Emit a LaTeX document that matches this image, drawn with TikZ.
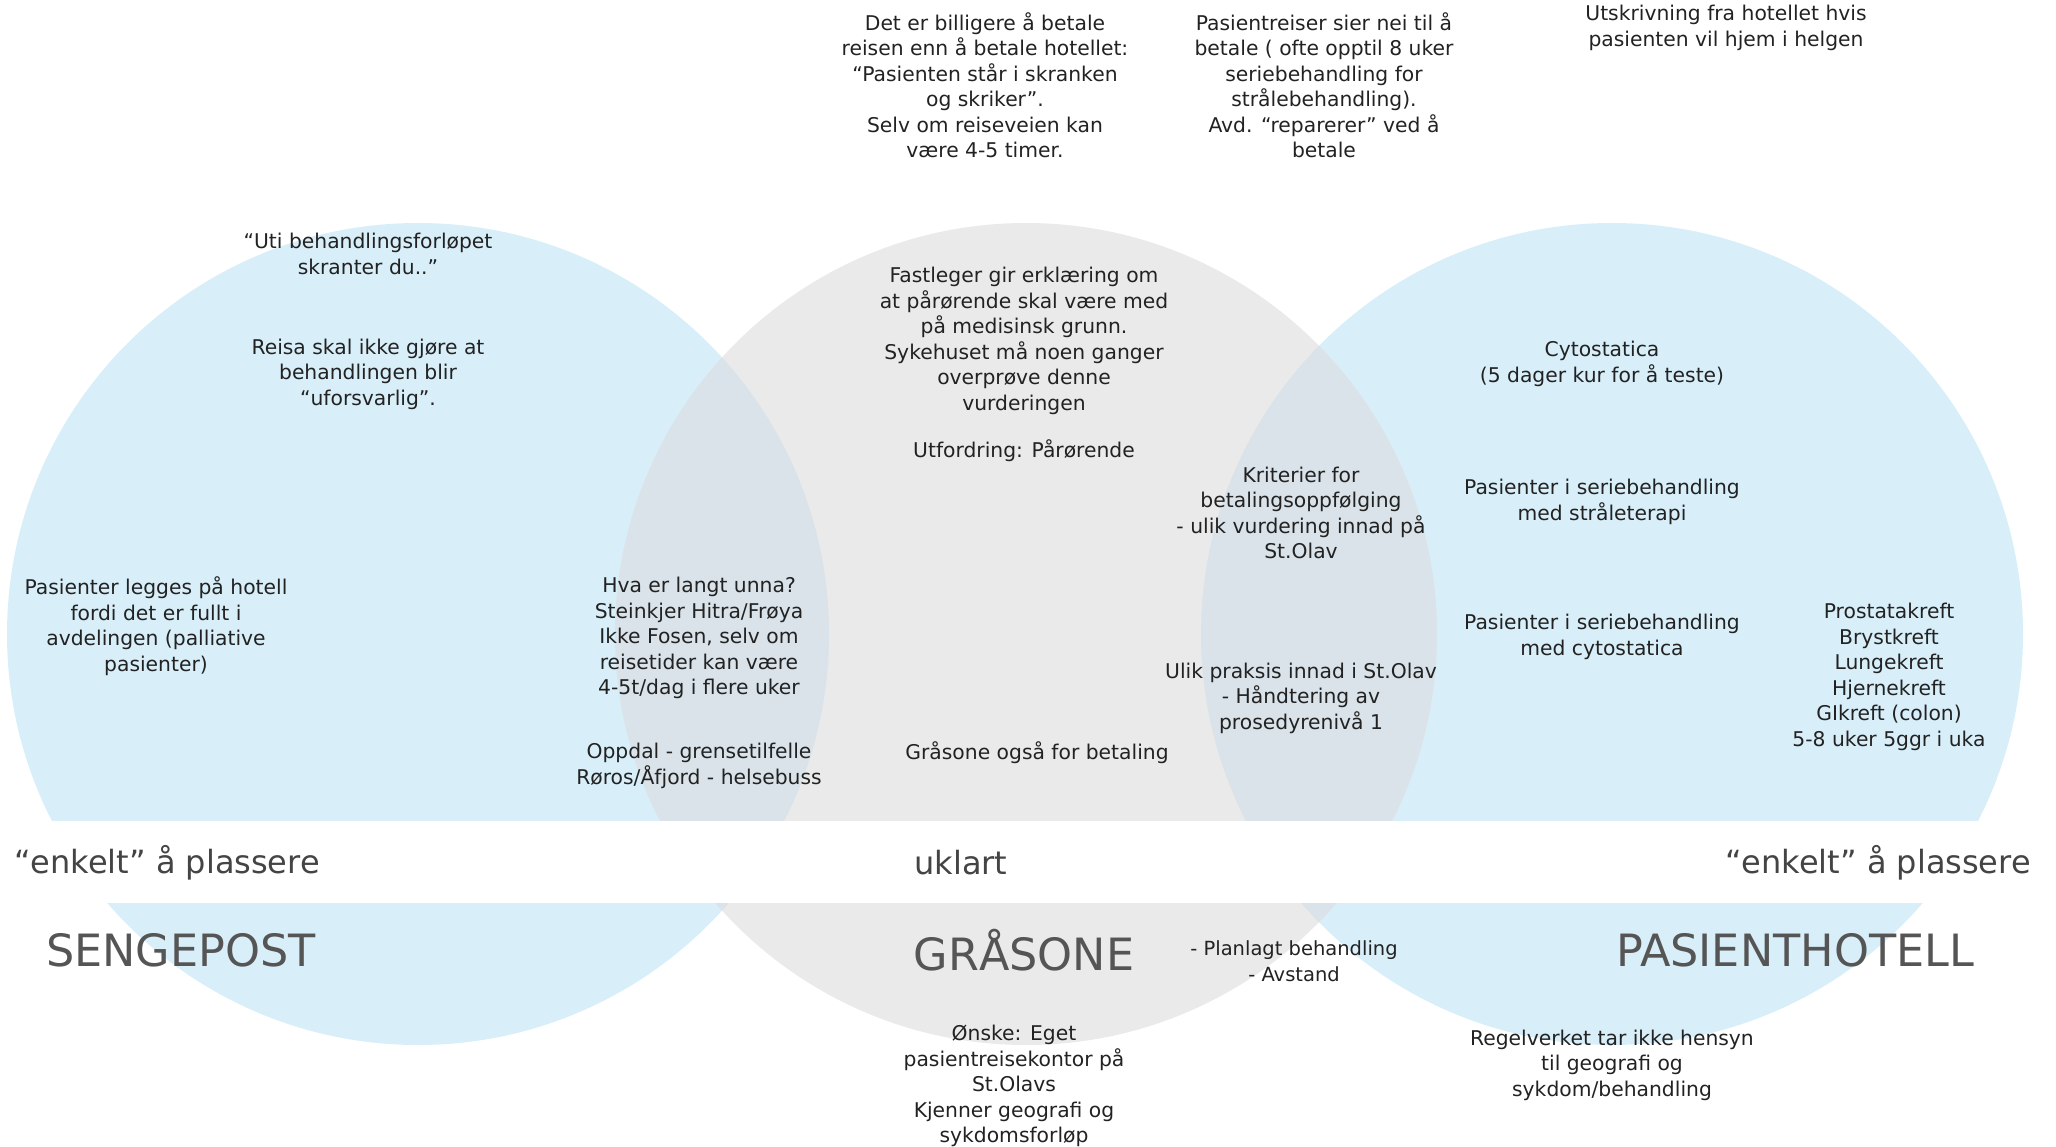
\documentclass[tikz,border=0pt]{standalone}
\usepackage{fontspec}
\setmainfont{DejaVu Sans}
\begin{document}
\definecolor{zoneblue}{HTML}{D8EFF9}
\definecolor{zonegray}{HTML}{EAEAEA}
\definecolor{zonemix}{HTML}{D9E3E9}
\definecolor{note}{HTML}{222222}
\definecolor{heading}{HTML}{555555}
\definecolor{verdict}{HTML}{444444}
\begin{tikzpicture}[x=1pt,y=-1pt,
  txt/.style={align=center,inner sep=0pt,text=note,font=\fontsize{20.3}{25.5}\selectfont},
  smalltxt/.style={txt,font=\fontsize{19.5}{25.5}\selectfont},
  zonelabel/.style={inner sep=0pt,text=heading,font=\fontsize{44.5}{50}\selectfont},
  verdictlabel/.style={inner sep=0pt,text=verdict,font=\fontsize{32}{36}\selectfont}]
\useasboundingbox (0,0) rectangle (2056,1147);

% the three zones
\coordinate (cL) at (418,634);
\coordinate (cM) at (1026,634);
\coordinate (cR) at (1612,634);
\fill[zoneblue] (cL) circle[radius=411];
\fill[zoneblue] (cR) circle[radius=411];
\fill[zonegray] (cM) circle[radius=411];
\begin{scope}
  \clip (cM) circle[radius=411];
  \fill[zonemix] (cL) circle[radius=411];
  \fill[zonemix] (cR) circle[radius=411];
\end{scope}

% white band across the zones
\fill[white] (0,821) rectangle (2056,903);

% band labels
\node[verdictlabel] (vL) at (167,863) {“enkelt” å plassere};
\node[verdictlabel] (vM) at (961,863) {uklart};
\node[verdictlabel] (vR) at (1878,863) {“enkelt” å plassere};

% zone titles
\node[zonelabel] (tL) at (181,950) {SENGEPOST};
\node[zonelabel] (tM) at (1024,950) {GRÅSONE};
\node[zonelabel] (tR) at (1795,950) {PASIENTHOTELL};

% notes above the zones
\node[txt] (n1) at (985,85) {Det er billigere å betale\\reisen enn å betale hotellet:\\“Pasienten står i skranken\\og skriker”.\\Selv om reiseveien kan\\være 4-5 timer.};
\node[txt] (n2) at (1324,85) {Pasientreiser sier nei til å\\betale ( ofte opptil 8 uker\\seriebehandling for\\strålebehandling).\\Avd. “reparerer” ved å\\betale};
\node[txt] (n3) at (1726,28) {Utskrivning fra hotellet hvis\\pasienten vil hjem i helgen};

% notes in the ward zone
\node[txt] (n4) at (368,254) {“Uti behandlingsforløpet\\skranter du..”};
\node[txt] (n5) at (368,374) {Reisa skal ikke gjøre at\\behandlingen blir\\“uforsvarlig”.};
\node[txt] (n6) at (156,626) {Pasienter legges på hotell\\fordi det er fullt i\\avdelingen (palliative\\pasienter)};
\node[txt] (n7) at (699,638) {Hva er langt unna?\\Steinkjer Hitra/Frøya\\Ikke Fosen, selv om\\reisetider kan være\\4-5t/dag i flere uker};
\node[txt] (n8) at (699,766) {Oppdal - grensetilfelle\\Røros/Åfjord - helsebuss};

% notes in the grey zone
\node[txt] (n9) at (1024,341) {Fastleger gir erklæring om\\at pårørende skal være med\\på medisinsk grunn.\\Sykehuset må noen ganger\\overprøve denne\\vurderingen};
\node[txt] (n10) at (1024,451) {Utfordring: Pårørende};
\node[txt] (n11) at (1301,513) {Kriterier for\\betalingsoppfølging\\- ulik vurdering innad på\\St.Olav};
\node[txt] (n12) at (1301,698) {Ulik praksis innad i St.Olav\\- Håndtering av\\prosedyrenivå 1};
\node[txt] (n13) at (1037,753) {Gråsone også for betaling};
\node[smalltxt] (n14) at (1294,961) {- Planlagt behandling\\- Avstand};
\node[txt] (n15) at (1014,1086) {Ønske: Eget\\pasientreisekontor på\\St.Olavs\\Kjenner geografi og\\sykdomsforløp};

% notes in the hotel zone
\node[txt] (n16) at (1602,364) {Cytostatica\\(5 dager kur for å teste)};
\node[txt] (n17) at (1602,502) {Pasienter i seriebehandling\\med stråleterapi};
\node[txt] (n18) at (1602,637) {Pasienter i seriebehandling\\med cytostatica};
\node[txt] (n19) at (1889,677) {Prostatakreft\\Brystkreft\\Lungekreft\\Hjernekreft\\GIkreft (colon)\\5-8 uker 5ggr i uka};
\node[txt] (n20) at (1612,1065) {Regelverket tar ikke hensyn\\til geografi og\\sykdom/behandling};
\end{tikzpicture}
\end{document}
